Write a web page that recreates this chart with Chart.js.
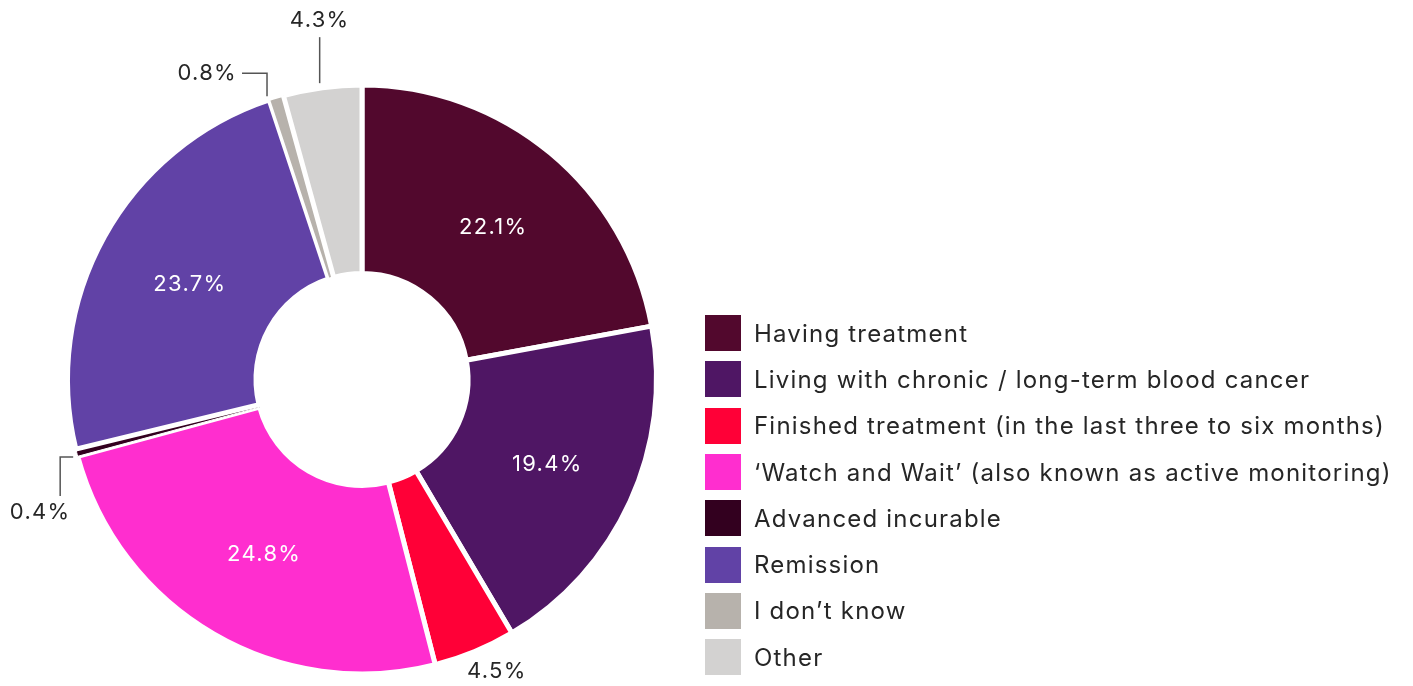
<!DOCTYPE html>
<html>
<head>
<meta charset="utf-8">
<script src="https://cdn.jsdelivr.net/npm/chart.js@4.4.0/dist/chart.umd.min.js"></script>
<style>
  body { margin: 0; background: #fff; font-family: Inter, "Noto Sans", sans-serif; }
  #wrap { position: relative; width: 1413px; height: 686px; }
  #legend { position: absolute; left: 705px; top: 310px; }
  .row { display: flex; align-items: center; height: 46.3px; }
  .sw { width: 36px; height: 36px; margin-right: 13px; flex: none; }
  .txt { font-size: 24px; font-weight: 400; letter-spacing: 1.2px; color: #262626; white-space: nowrap; }
</style>
</head>
<body>
<div id="wrap">
  <canvas id="statusChart"></canvas>
  <div id="legend"></div>
</div>
<script>
const statusLabels = [
  'Having treatment',
  'Living with chronic / long-term blood cancer',
  'Finished treatment (in the last three to six months)',
  '\u2018Watch and Wait\u2019 (also known as active monitoring)',
  'Advanced incurable',
  'Remission',
  'I don\u2019t know',
  'Other'
];
const statusValues = [22.1, 19.4, 4.5, 24.8, 0.4, 23.7, 0.8, 4.3];
const statusColors = ['#52082d', '#4f1664', '#ff0037', '#ff2ecf', '#33001f', '#6142a6', '#b7b2ac', '#d3d2d1'];
// thinner white edge on the two tiny slices so they stay visible
const statusBorders = [5, 5, 5, 5, 1, 5, 2, 5];

// labels drawn outside the ring, offsets relative to the outer middle of the slice
const outsideLabels = {
  2: { text: [23, 22], align: 'center', line: [] },
  4: { text: [-39, 60], align: 'center', line: [[-6, 5], [-19, 5], [-19, 44]] },
  6: { text: [-40, -27], align: 'right', line: [[-10, -4], [-10, -27], [-35, -27]] },
  7: { text: [-3, -70], align: 'center', line: [[-3, -7], [-3, -53]] }
};

const sliceLabels = {
  id: 'sliceLabels',
  afterDatasetsDraw(chart) {
    const ctx = chart.ctx;
    const arcs = chart.getDatasetMeta(0).data;
    ctx.save();
    ctx.font = '22px Inter, "Noto Sans", sans-serif';
    ctx.letterSpacing = '1.3px';
    ctx.textBaseline = 'middle';
    arcs.forEach((arc, i) => {
      const p = arc.getProps(['x', 'y', 'startAngle', 'endAngle', 'innerRadius', 'outerRadius'], true);
      const mid = (p.startAngle + p.endAngle) / 2;
      const txt = statusValues[i].toFixed(1) + '%';
      const conf = outsideLabels[i];
      if (!conf) {
        const r = (p.innerRadius + p.outerRadius) / 2;
        ctx.fillStyle = '#ffffff';
        ctx.textAlign = 'center';
        ctx.fillText(txt, p.x + Math.cos(mid) * r + 3, p.y + Math.sin(mid) * r + 2);
        return;
      }
      const ox = p.x + Math.cos(mid) * (p.outerRadius - 2.5);
      const oy = p.y + Math.sin(mid) * (p.outerRadius - 2.5);
      if (conf.line.length) {
        ctx.strokeStyle = '#555555';
        ctx.lineWidth = 1.5;
        ctx.beginPath();
        conf.line.forEach((pt, k) => {
          if (k === 0) ctx.moveTo(ox + pt[0], oy + pt[1]);
          else ctx.lineTo(ox + pt[0], oy + pt[1]);
        });
        ctx.stroke();
      }
      ctx.fillStyle = '#262626';
      ctx.textAlign = conf.align;
      ctx.fillText(txt, ox + conf.text[0], oy + conf.text[1]);
    });
    ctx.restore();
  }
};

const legendBox = document.getElementById('legend');
statusLabels.forEach((label, i) => {
  const row = document.createElement('div');
  row.className = 'row';
  row.innerHTML = '<div class="sw" style="background:' + statusColors[i] + '"></div><div class="txt"></div>';
  row.querySelector('.txt').textContent = label;
  legendBox.appendChild(row);
});

const canvas = document.getElementById('statusChart');
canvas.width = 1413;
canvas.height = 686;
const ctx = canvas.getContext('2d');
new Chart(ctx, {
  type: 'doughnut',
  data: {
    labels: statusLabels,
    datasets: [{
      data: statusValues,
      backgroundColor: statusColors,
      borderColor: '#ffffff',
      borderWidth: statusBorders
    }]
  },
  options: {
    responsive: false,
    animation: false,
    cutout: '36%',
    layout: {
      padding: { left: 63.5, right: 752.5, top: 82.5, bottom: 9.5 }
    },
    plugins: {
      legend: { display: false },
      tooltip: { enabled: false }
    }
  },
  plugins: [sliceLabels]
});
</script>
</body>
</html>
